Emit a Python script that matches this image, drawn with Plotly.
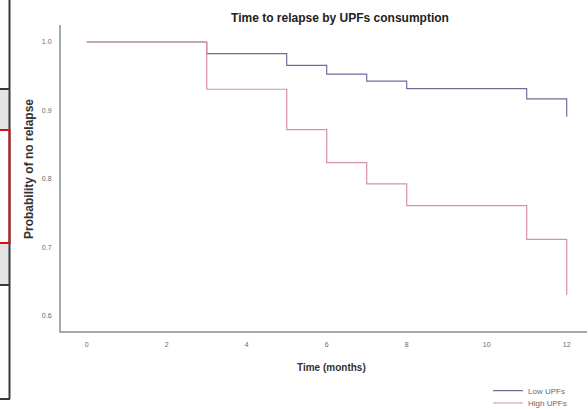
import plotly.graph_objects as go

W, H = 588, 409

months = [0, 3, 5, 6, 7, 8, 11, 12]
low_upfs = [1.0, 0.983, 0.966, 0.953, 0.943, 0.932, 0.917, 0.891]
high_upfs = [1.0, 0.931, 0.872, 0.824, 0.793, 0.761, 0.712, 0.631]
x_ticks = [0, 2, 4, 6, 8, 10, 12]
y_ticks = [0.6, 0.7, 0.8, 0.9, 1.0]
y_tick_text = ["0.6", "0.7", "0.8", "0.9", "1.0"]

BLUE = "#6e6e9e"
PINK = "#d693a2"

def px(x):
    return x / W

def py(y):
    return 1 - y / H

fig = go.Figure()
fig.add_trace(go.Scatter(x=months, y=low_upfs, mode="lines", line=dict(shape="hv", color=BLUE, width=1.2),
                         name="Low UPFs", legend="legend"))
fig.add_trace(go.Scatter(x=months, y=high_upfs, mode="lines", line=dict(shape="hv", color=PINK, width=1.2),
                         name="High UPFs", legend="legend2"))

# x: 0 at px 86.7, 40 px per month; axis from 61 to 587
x0, xs = 86.7, 40.0
xl, xr = 61, 587
# y: 1.0 at py 42, 685 px per unit; axis from 25 to 331
y1, ys = 42.0, 685.0
yt, yb = 25, 331

fig.update_xaxes(domain=[px(xl), px(xr)], range=[(xl - x0) / xs, (xr - x0) / xs],
                 showline=True, linecolor="#a9a9a9", linewidth=2, showgrid=False, zeroline=False,
                 tickvals=x_ticks, ticks="", ticklabelstandoff=6,
                 tickfont=dict(family="Liberation Sans, Arial", size=7, color="#6a6a6a"), automargin=False)
fig.update_yaxes(domain=[py(yb), py(yt)], range=[1.0 - (yb - y1) / ys, 1.0 + (y1 - yt) / ys],
                 showline=True, linecolor="#a9a9a9", linewidth=2, showgrid=False, zeroline=False,
                 tickvals=y_ticks, ticktext=y_tick_text, ticks="", ticklabelstandoff=6,
                 tickfont=dict(family="Liberation Sans, Arial", size=7, color="#6a6a6a"), automargin=False)

shapes = []
LINEC = "#3a3a3a"
# left table fragment
shapes.append(dict(type="rect", xref="paper", yref="paper", x0=px(0), x1=px(9.5), y0=py(129), y1=py(89),
                   fillcolor="#e4e4e4", line=dict(width=0), layer="below"))
shapes.append(dict(type="rect", xref="paper", yref="paper", x0=px(0), x1=px(9.5), y0=py(285), y1=py(244),
                   fillcolor="#e4e4e4", line=dict(width=0), layer="below"))
shapes.append(dict(type="line", xref="paper", yref="paper", x0=px(9.5), x1=px(9.5), y0=py(0), y1=py(399),
                   line=dict(color=LINEC, width=2)))
for yy in [89, 285, 399]:
    shapes.append(dict(type="line", xref="paper", yref="paper", x0=px(0), x1=px(10), y0=py(yy), y1=py(yy),
                       line=dict(color=LINEC, width=2)))
shapes.append(dict(type="rect", xref="paper", yref="paper", x0=px(-2), x1=px(9.5), y0=py(243), y1=py(130),
                   fillcolor="rgba(0,0,0,0)", line=dict(color="#cc1515", width=2)))

annotations = [
    dict(text="<b>Probability of no relapse</b>", xref="paper", yref="paper", x=px(29), y=py(169),
         textangle=-90, showarrow=False, font=dict(family="Liberation Sans, Arial", size=12, color="#333333"),
         xanchor="center", yanchor="middle"),
    dict(text="<b>Time (months)</b>", xref="paper", yref="paper", x=px(331), y=py(367),
         showarrow=False, font=dict(family="Liberation Sans, Arial", size=10, color="#333333"),
         xanchor="center", yanchor="middle"),
]

fig.update_layout(
    width=W, height=H, margin=dict(l=0, r=0, t=0, b=0, autoexpand=False),
    template="none", paper_bgcolor="white", plot_bgcolor="white",
    title=dict(text="<b>Time to relapse by UPFs consumption</b>", xref="paper", yref="paper",
               x=px(340), y=py(17.5), xanchor="center", yanchor="middle",
               font=dict(family="Liberation Sans, Arial", size=12, color="#222222")),
    shapes=shapes, annotations=annotations,
    legend=dict(x=px(488), y=py(390.7), xanchor="left", yanchor="middle", bgcolor="rgba(0,0,0,0)",
                font=dict(family="Liberation Sans, Arial", size=8, color="#6a6a6a")),
    legend2=dict(x=px(488), y=py(403), xanchor="left", yanchor="middle", bgcolor="rgba(0,0,0,0)",
                 font=dict(family="Liberation Sans, Arial", size=8, color="#6a6a6a")),
    showlegend=True,
)

fig.write_html("out.html")
